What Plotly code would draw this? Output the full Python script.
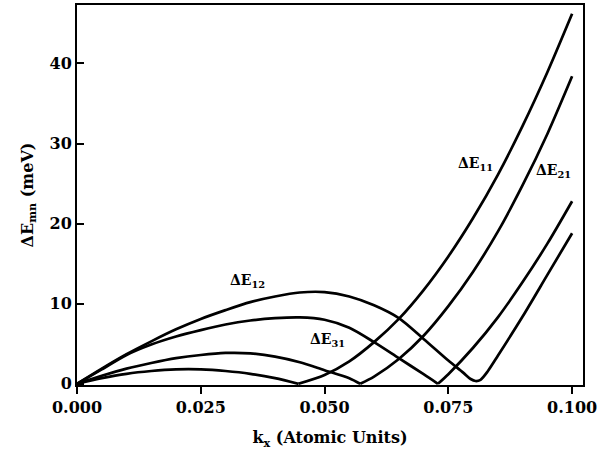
import plotly.graph_objects as go

# ---- data ----
k_11 = [0, 0.005, 0.010, 0.015, 0.020, 0.025, 0.030, 0.035, 0.040, 0.0447,
        0.050, 0.055, 0.060, 0.065, 0.070, 0.075, 0.080, 0.085, 0.090, 0.095, 0.100]
E_11 = [0, 0.7, 1.25, 1.6, 1.8, 1.8, 1.6, 1.25, 0.7, 0,
        1.1, 2.8, 5.2, 8.1, 11.7, 15.9, 20.7, 26.1, 32.2, 38.9, 46.2]

k_21 = [0, 0.005, 0.010, 0.015, 0.020, 0.025, 0.030, 0.035, 0.040, 0.045, 0.050, 0.055, 0.0572,
        0.060, 0.065, 0.070, 0.075, 0.080, 0.085, 0.090, 0.095, 0.100]
E_21 = [0, 1.0, 1.9, 2.6, 3.2, 3.6, 3.85, 3.8, 3.4, 2.7, 1.7, 0.7, 0,
        0.9, 3.1, 6.0, 9.7, 14.0, 19.0, 24.8, 31.2, 38.4]

k_31 = [0, 0.005, 0.010, 0.015, 0.020, 0.025, 0.030, 0.035, 0.040, 0.045, 0.050, 0.055,
        0.060, 0.065, 0.070, 0.0729, 0.075, 0.080, 0.085, 0.090, 0.095, 0.100]
E_31 = [0, 1.8, 3.6, 4.9, 5.9, 6.7, 7.4, 7.9, 8.2, 8.3, 8.0, 7.0,
        5.2, 3.2, 1.2, 0, 1.2, 4.5, 8.3, 12.7, 17.5, 22.8]

k_12 = [0, 0.005, 0.010, 0.015, 0.020, 0.025, 0.030, 0.035, 0.040, 0.045, 0.050, 0.055,
        0.060, 0.065, 0.070, 0.075, 0.078, 0.0795, 0.0805, 0.0815, 0.083, 0.085, 0.090, 0.095, 0.100]
E_12 = [0, 1.9, 3.7, 5.3, 6.8, 8.1, 9.2, 10.2, 10.9, 11.4, 11.45, 10.9,
        9.8, 8.2, 5.6, 2.9, 1.4, 0.6, 0.35, 0.5, 1.6, 3.5, 8.4, 13.6, 18.8]

label_text = ["ΔE<sub>12</sub>", "ΔE<sub>31</sub>", "ΔE<sub>11</sub>", "ΔE<sub>21</sub>"]
label_k = [0.0345, 0.0505, 0.0804, 0.0962]
label_E = [12.8, 5.5, 27.5, 26.6]

x_ticks = [0, 0.025, 0.05, 0.075, 0.1]
x_tick_text = ["0.000", "0.025", "0.050", "0.075", "0.100"]
y_ticks = [0, 10, 20, 30, 40]

FONT = "DejaVu Serif"

fig = go.Figure()

for ks, Es in [(k_11, E_11), (k_21, E_21), (k_31, E_31), (k_12, E_12)]:
    zeros = [i for i, v in enumerate(Es) if v == 0 and i > 0]
    parts = [(ks, Es)] if not zeros else [(ks[:zeros[0] + 1], Es[:zeros[0] + 1]),
                                          (ks[zeros[0]:], Es[zeros[0]:])]
    for kk, ee in parts:
        fig.add_trace(go.Scatter(x=kk, y=ee, mode="lines",
                                 line=dict(color="black", width=2.7, shape="spline", smoothing=0.8),
                                 showlegend=False, hoverinfo="skip"))

for t, kx, ey in zip(label_text, label_k, label_E):
    fig.add_annotation(x=kx, y=ey, text=t, showarrow=False,
                       font=dict(family=FONT, size=14, color="black", weight="bold"))

fig.update_layout(
    width=613, height=473,
    margin=dict(l=77, r=30, t=3, b=88),
    paper_bgcolor="white", plot_bgcolor="white",
    font=dict(family=FONT, size=16, color="black", weight="bold"),
    showlegend=False,
)

fig.update_xaxes(
    range=[0, 0.1022], tickvals=x_ticks, ticktext=x_tick_text,
    ticks="outside", ticklen=7, tickwidth=2, tickcolor="black",
    showline=True, linewidth=2, linecolor="black", mirror=True,
    showgrid=False, zeroline=False,
    tickfont=dict(family=FONT, size=16, color="black", weight="bold"),
    title=dict(text="k<sub>x</sub> (Atomic Units)", standoff=16,
               font=dict(family=FONT, size=16, color="black", weight="bold")),
)
fig.update_yaxes(
    range=[-0.15, 47.3], tickvals=y_ticks,
    ticks="inside", ticklen=7, tickwidth=2, tickcolor="black",
    showline=True, linewidth=2, linecolor="black", mirror=True,
    showgrid=False, zeroline=False,
    tickfont=dict(family=FONT, size=16, color="black", weight="bold"),
    title=dict(text="ΔE<sub>mn</sub> (meV)", standoff=12,
               font=dict(family=FONT, size=16, color="black", weight="bold")),
)

fig.write_html("out.html")
